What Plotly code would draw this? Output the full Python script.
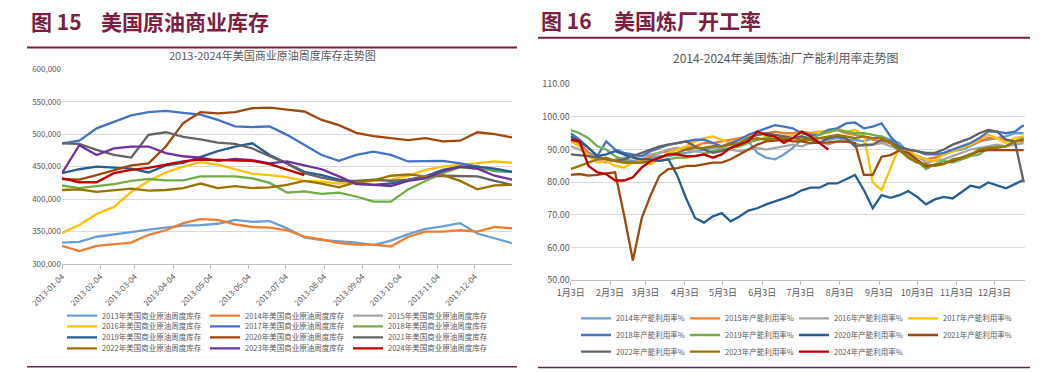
import plotly.graph_objects as go
import pandas as pd

W, H = 1048, 373

# ---------------- Left chart: US commercial crude inventory (thousand bbl) ----------------
inv_dates = pd.date_range("2013-01-04", periods=27, freq="14D")
inv_tick_vals = ["2013-%02d-04" % m for m in range(1, 13)]
inv_tick_text = inv_tick_vals

inv_names = ["2013年美国商业原油周度库存", "2014年美国商业原油周度库存", "2015年美国商业原油周度库存",
             "2016年美国商业原油周度库存", "2017年美国商业原油周度库存", "2018年美国商业原油周度库存",
             "2019年美国商业原油周度库存", "2020年美国商业原油周度库存", "2021年美国商业原油周度库存",
             "2022年美国商业原油周度库存", "2023年美国商业原油周度库存", "2024年美国商业原油周度库存"]

inv_2013 = [333000, 334000, 342000, 345000, 349000, 353000, 356000, 359000, 360000, 362000, 368000, 365000, 366000,
            355000, 341000, 337000, 335000, 333000, 329000, 336000, 346000, 354000, 358000, 363000, 347000, 340000, 332000]
inv_2014 = [328000, 320000, 328000, 331000, 333000, 345000, 352000, 363000, 369000, 368000, 361000, 357000, 356000,
            352000, 342000, 338000, 332000, 330000, 330000, 327000, 342000, 350000, 350000, 352000, 350000, 357000, 355000]
inv_2015 = [None] * 27
inv_2016 = [348000, 360000, 377000, 388000, 411000, 428000, 441000, 450000, 457000, 453000, 446000, 439000, 437000,
            434000, 428000, 427000, 424000, 426000, 429000, 430000, 436000, 445000, 450000, 453000, 455000, 458000, 456000]
inv_2017 = [486000, 490000, 509000, 519000, 529000, 534000, 536000, 533000, 530000, 522000, 512000, 511000, 512000,
            499000, 484000, 468000, 459000, 468000, 473000, 468000, 458000, 458000, 459000, 455000, 450000, 443000, 442000]
inv_2018 = [421000, 417000, 420000, 423000, 428000, 431000, 429000, 429000, 435000, 435000, 435000, 432000, 425000,
            410000, 412000, 408000, 410000, 404000, 396000, 396000, 415000, 428000, 440000, 449000, 447000, 444000, 442000]
inv_2019 = [440000, 446000, 450000, 449000, 447000, 441000, 452000, 456000, 465000, 474000, 481000, 486000, 468000,
            455000, 442000, 437000, 430000, 425000, 422000, 424000, 429000, 435000, 445000, 450000, 450000, 447000, 442000]
inv_2020 = [431000, 430000, 437000, 445000, 452000, 455000, 481000, 517000, 534000, 532000, 534000, 540000, 541000,
            538000, 535000, 522000, 514000, 502000, 497000, 494000, 491000, 494000, 489000, 490000, 503000, 500000, 495000]
inv_2021 = [486000, 485000, 476000, 468000, 464000, 499000, 503000, 496000, 492000, 487000, 485000, 478000, 466000,
            455000, 440000, 433000, 428000, 428000, 430000, 428000, 430000, 435000, 436000, 435000, 435000, 428000, 422000]
inv_2022 = [414000, 415000, 411000, 413000, 416000, 413000, 414000, 417000, 424000, 417000, 420000, 417000, 418000,
            422000, 428000, 424000, 418000, 426000, 429000, 436000, 438000, 435000, 437000, 428000, 415000, 421000, 422000]
inv_2023 = [440000, 483000, 468000, 478000, 481000, 481000, 471000, 466000, 464000, 459000, 462000, 460000, 455000,
            458000, 452000, 446000, 435000, 423000, 422000, 420000, 428000, 432000, 443000, 450000, 447000, 436000, 430000]
inv_2024 = [432000, 426000, 426000, 440000, 445000, 448000, 453000, 458000, 461000, 460000, 460000, 459000, 454000,
            446000, 437000] + [None] * 12

inv_series = [inv_2013, inv_2014, inv_2015, inv_2016, inv_2017, inv_2018,
              inv_2019, inv_2020, inv_2021, inv_2022, inv_2023, inv_2024]
inv_colors = ["#6A9FD4", "#ED7D31", "#A5A5A5", "#FFC000", "#4472C4", "#70AD47",
              "#255E91", "#9E480E", "#636363", "#997300", "#7030A0", "#C00000"]

# ---------------- Right chart: US refinery utilization (%) ----------------
util_dates = pd.date_range("2023-01-03", periods=52, freq="7D")
util_tick_vals = ["2023-%02d-03" % m for m in range(1, 13)]
util_tick_text = ["%d月3日" % m for m in range(1, 13)]

util_names = ["2014年产能利用率%", "2015年产能利用率%", "2016年产能利用率%", "2017年产能利用率%",
              "2018年产能利用率%", "2019年产能利用率%", "2020年产能利用率%", "2021年产能利用率%",
              "2022年产能利用率%", "2023年产能利用率%", "2024年产能利用率%"]

util_2014 = [93, 91.5, 89, 88, 87, 86.5, 87, 86.5, 87, 87.5, 88, 88, 88.5, 89, 89.5, 90, 90.5, 91, 91.5, 92,
             92.5, 89, 87.5, 87, 88.5, 90.5, 93, 93.5, 93.5, 93, 93.5, 93, 93, 92.5, 93.5, 94, 93, 92, 89, 88,
             87, 87.5, 88.5, 89.5, 90, 91, 92.5, 93, 93.5, 94, 95, 95]
util_2015 = [94, 92, 89, 87, 87, 86.5, 86, 86, 87, 88, 89, 89.5, 90, 90.5, 91, 92, 92, 92.5, 93, 93.5,
             94, 94.5, 95, 95.5, 95, 95, 95.5, 95, 95.5, 95.5, 96, 95, 94.5, 94, 93, 92.5, 92, 91, 89.5, 88,
             87, 87.5, 88.5, 89.5, 90.5, 91.5, 92.5, 93.5, 93.5, 93, 92.5, 92.5]
util_2016 = [91, 90, 88.5, 87, 86, 87, 87.5, 88, 88, 88.5, 89, 90, 90.5, 90, 89.5, 89, 89.5, 90.5, 90, 89.5,
             90, 90.5, 90, 90.5, 91, 91.5, 91, 92, 92.5, 91.5, 92.5, 92.5, 92, 91, 91.5, 92, 91, 90, 88.5, 88,
             86, 86.5, 87, 88, 89, 90, 90.5, 91, 91.5, 91, 91.5, 92]
util_2017 = [92.5, 91, 88, 86, 86.5, 85, 84.5, 86, 86.5, 85.5, 87, 89, 90, 91, 92.5, 93.5, 94, 93, 92, 93,
             94, 95, 94, 93, 94, 94.5, 95, 94.5, 95.5, 95, 96.5, 95.5, 96, 94.5, 80, 77.5, 84, 91, 89.5, 88,
             87, 86.5, 88.5, 89.5, 90.5, 91.5, 93, 94.5, 93.5, 92, 93.5, 94]
util_2018 = [95, 93, 90.5, 88, 92.5, 90, 89, 88.5, 88, 89.5, 90.5, 91.5, 92, 92.5, 93, 93, 92, 91, 92, 93,
             94.5, 95.5, 96.5, 97.5, 97, 96.5, 95, 94.5, 94.5, 96, 96.5, 98, 98.3, 96.5, 97, 98, 94, 91, 90, 89.5,
             88.5, 88.5, 89, 90, 91, 92, 93.5, 95.5, 95.5, 95, 95.5, 97.5]
util_2019 = [96, 95, 93.5, 91, 90, 88, 86.5, 86, 86, 86.5, 86.5, 87, 87.5, 87.5, 88, 88.5, 89.5, 90, 90.5, 91,
             92, 93, 93.5, 94.5, 94, 93.5, 94, 93.5, 94.5, 95.5, 96, 95.5, 95, 95, 94.5, 94, 92, 89.5, 88, 86.5,
             84, 85.5, 86.5, 86, 87, 88, 88.5, 90.5, 91, 91, 92.5, 93.5]
util_2020 = [94, 92.5, 90.5, 88, 88.5, 89.5, 88.5, 87.5, 87, 87, 86.5, 87, 82, 75, 69, 67.6, 69.5, 70.5, 68, 69.5,
             71.3, 72, 73.2, 74, 75, 76, 77.5, 78.3, 78.3, 79.6, 79.6, 80.9, 82.2, 77.6, 72, 76, 75.2, 76, 77.3, 75.5,
             73.2, 74.7, 75.5, 75, 77, 78.9, 78.3, 79.9, 79, 78.1, 79.4, 80.7]
util_2021 = [82.2, 82.5, 82, 82.2, 82.7, 83, 70, 56, 69, 76, 82, 84, 84.3, 85, 85, 85.5, 86, 86, 87, 88.5,
             90, 91.5, 92.5, 92.7, 93, 92.5, 92.5, 92, 92, 92.2, 92.4, 92.4, 92, 82.2, 82.2, 87.8, 88.3, 89.7, 89, 87,
             84.8, 85.2, 85.7, 86.5, 87.5, 88.5, 89.5, 89.8, 89.8, 89.8, 89.8, 89.8]
util_2022 = [88.5, 88.3, 88, 87.5, 87, 86.5, 87, 88, 89, 90, 91, 91.5, 92, 92.5, 91, 90, 89, 89.5, 90.5, 92,
             93.5, 94.5, 95, 94.5, 94, 93.5, 94, 93, 92, 93.5, 94, 93.5, 91, 91.5, 91.5, 93, 92.5, 90.5, 90, 89.5,
             89, 89, 90, 91.5, 92.5, 93.5, 95, 96, 95.5, 93, 92.5, 80]
util_2023 = [84, 85, 86, 87, 87.5, 86.5, 86, 86, 86, 86.5, 87.5, 88.5, 89, 90, 90.5, 90.5, 91, 91, 91.5, 92,
             93, 93.5, 93, 93.5, 93.5, 93.5, 93, 93, 93.5, 94, 94.5, 94, 93.5, 94, 93.5, 93.5, 92, 90, 87.5, 86,
             85.5, 85, 85.5, 87, 87.5, 88.5, 90, 90.5, 90.5, 91, 92.5, 93]
util_2024 = [93, 92.5, 85, 83, 82.5, 80.5, 80.5, 81.5, 84.5, 86.5, 87.5, 88.5, 88.5, 88, 88, 88.5, 87.5, 88.5, 90.5, 91.5,
             92.5, 95.5, 94.5, 94, 92, 93.5, 95.5, 94, 92, 90] + [None] * 22

util_series = [util_2014, util_2015, util_2016, util_2017, util_2018, util_2019,
               util_2020, util_2021, util_2022, util_2023, util_2024]
util_colors = ["#6A9FD4", "#ED7D31", "#A5A5A5", "#FFC000", "#4472C4", "#70AD47",
               "#255E91", "#9E480E", "#636363", "#997300", "#C00000"]

FONT = "Noto Sans CJK SC"
TXT = "#595959"
MAROON = "#7A1E42"

fig = go.Figure()

for i, (name, vals, col) in enumerate(zip(inv_names, inv_series, inv_colors)):
    leg = "legend" if i < 3 else "legend%d" % (i // 3 + 1)
    fig.add_trace(go.Scatter(x=inv_dates, y=vals, name=name, mode="lines",
                             line=dict(color=col, width=2.3), xaxis="x", yaxis="y",
                             legend=leg, hoverinfo="skip"))

util_legs = ["legend5"] * 4 + ["legend6"] * 4 + ["legend7"] * 3
for name, vals, col, leg in zip(util_names, util_series, util_colors, util_legs):
    fig.add_trace(go.Scatter(x=util_dates, y=vals, name=name, mode="lines",
                             line=dict(color=col, width=2.3), xaxis="x2", yaxis="y2",
                             legend=leg, hoverinfo="skip"))


def px(v):
    return v / W


def py(v):
    return 1 - v / H


axis_font = dict(family=FONT, size=8, color=TXT)

layout = dict(
    width=W, height=H, margin=dict(l=0, r=0, t=0, b=0, autoexpand=False),
    paper_bgcolor="white", plot_bgcolor="white",
    font=dict(family=FONT, size=8, color=TXT),
    xaxis=dict(domain=[px(62), px(512)], anchor="y", type="date",
               range=["2013-01-04", "2014-01-03"], tickvals=inv_tick_vals, ticktext=inv_tick_text,
               tickangle=-45, showgrid=False, showline=True, linecolor="#BFBFBF", linewidth=1,
               ticks="outside", ticklen=4, tickcolor="#BFBFBF", tickfont=axis_font, zeroline=False),
    yaxis=dict(domain=[py(264), py(69.3)], anchor="x", range=[300000, 600000], dtick=50000,
               tickformat=",", gridcolor="#D9D9D9", gridwidth=1, showline=False, zeroline=False,
               ticks="", tickfont=axis_font),
    xaxis2=dict(domain=[px(570.7), px(1025)], anchor="y2", type="date",
                range=["2023-01-03", "2023-12-27"], tickvals=util_tick_vals, ticktext=util_tick_text,
                tickangle=0, showgrid=False, showline=True, linecolor="#BFBFBF", linewidth=1,
                ticks="outside", ticklen=4, tickcolor="#BFBFBF",
                tickfont=dict(family=FONT, size=9, color=TXT), zeroline=False),
    yaxis2=dict(domain=[py(280), py(84.3)], anchor="x2", range=[50, 110], dtick=10,
                tickformat=".2f", gridcolor="#D9D9D9", gridwidth=1, showline=False, zeroline=False,
                ticks="", tickfont=dict(family=FONT, size=9, color=TXT)),
    showlegend=True,
)

left_rows = [315.7, 326.3, 337.3, 348.3]
for j, yy in enumerate(left_rows):
    key = "legend" if j == 0 else "legend%d" % (j + 1)
    layout[key] = dict(orientation="h", x=px(62), y=py(yy), xanchor="left", yanchor="middle",
                       font=dict(family=FONT, size=7.5, color=TXT), bgcolor="rgba(0,0,0,0)",
                       itemwidth=30, entrywidth=98, borderwidth=0)

right_rows = [318.3, 335.0, 351.7]
for j, yy in enumerate(right_rows):
    key = "legend%d" % (j + 5)
    layout[key] = dict(orientation="h", x=px(576), y=py(yy), xanchor="left", yanchor="middle",
                       font=dict(family=FONT, size=7.5, color=TXT), bgcolor="rgba(0,0,0,0)",
                       itemwidth=30, entrywidth=64, borderwidth=0)

fig.update_layout(**layout)

annotations = [
    dict(text="<b>图 15</b>", x=px(29), y=py(21), xanchor="left", yanchor="middle",
         font=dict(family=FONT, size=21, color=MAROON)),
    dict(text="<b>美国原油商业库存</b>", x=px(99), y=py(21), xanchor="left", yanchor="middle",
         font=dict(family=FONT, size=21, color=MAROON)),
    dict(text="<b>图 16</b>", x=px(539), y=py(20), xanchor="left", yanchor="middle",
         font=dict(family=FONT, size=21, color=MAROON)),
    dict(text="<b>美国炼厂开工率</b>", x=px(612), y=py(20), xanchor="left", yanchor="middle",
         font=dict(family=FONT, size=21, color=MAROON)),
    dict(text="2013-2024年美国商业原油周度库存走势图", x=px(272), y=py(55), xanchor="center", yanchor="middle",
         font=dict(family=FONT, size=11, color=TXT)),
    dict(text="2014-2024年美国炼油厂产能利用率走势图", x=px(785), y=py(57), xanchor="center", yanchor="middle",
         font=dict(family=FONT, size=12, color=TXT)),
]
for a in annotations:
    a.update(xref="paper", yref="paper", showarrow=False)
fig.update_layout(annotations=annotations)

shapes = [
    dict(type="line", x0=px(27), x1=px(517), y0=py(47.5), y1=py(47.5), line=dict(color=MAROON, width=2)),
    dict(type="line", x0=px(538), x1=px(1030), y0=py(37.7), y1=py(37.7), line=dict(color=MAROON, width=2)),
    dict(type="line", x0=px(27), x1=px(517), y0=py(366.7), y1=py(366.7), line=dict(color="#5E2750", width=1.5)),
    dict(type="line", x0=px(538), x1=px(1030), y0=py(367.5), y1=py(367.5), line=dict(color="#5E2750", width=1.5)),
]
for s in shapes:
    s.update(xref="paper", yref="paper")
fig.update_layout(shapes=shapes)

fig.write_html("out.html", config={"displayModeBar": False},
               post_script="document.body.style.margin='0';")
